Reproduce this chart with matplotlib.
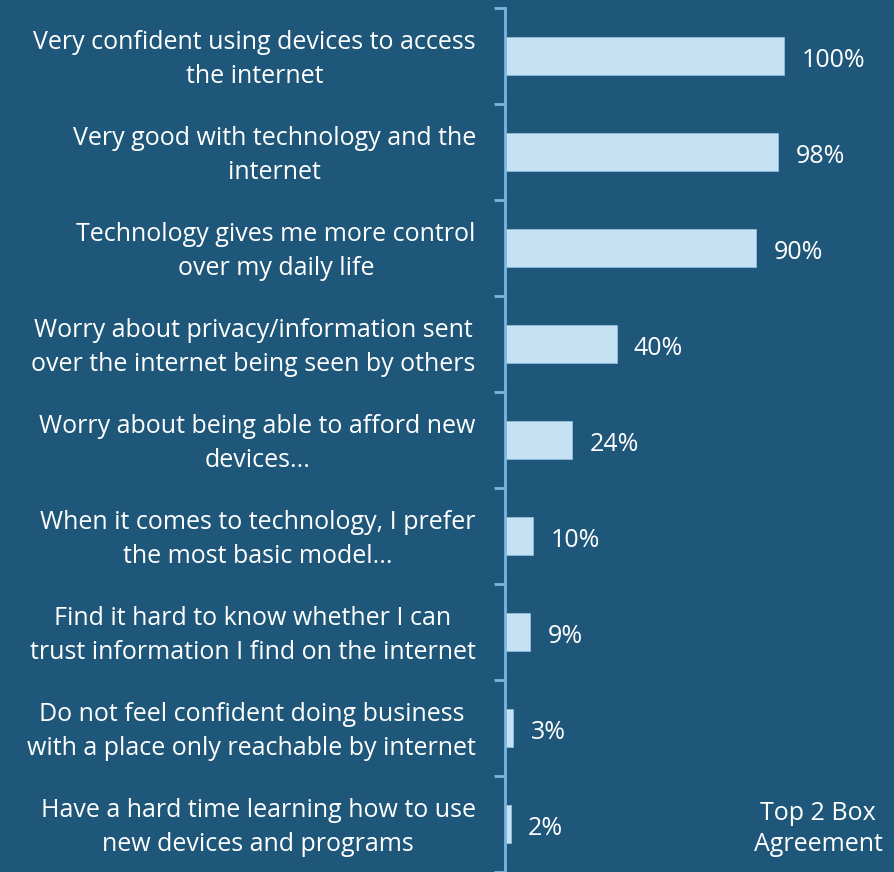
import matplotlib
matplotlib.use("Agg")
import matplotlib.pyplot as plt
from matplotlib.transforms import ScaledTranslation
import numpy as np

categories = [
    "Very confident using devices to access\nthe internet",
    "Very good with technology and the\ninternet",
    "Technology gives me more control\nover my daily life",
    "Worry about privacy/information sent\nover the internet being seen by others",
    "Worry about being able to afford new\ndevices...",
    "When it comes to technology, I prefer\nthe most basic model...",
    "Find it hard to know whether I can\ntrust information I find on the internet",
    "Do not feel confident doing business\nwith a place only reachable by internet",
    "Have a hard time learning how to use\nnew devices and programs",
]
values = [100, 98, 90, 40, 24, 10, 9, 3, 2]
value_labels = ["100%", "98%", "90%", "40%", "24%", "10%", "9%", "3%", "2%"]
note = "Top 2 Box\nAgreement"

BG = "#1e5779"
BAR = "#c5e1f3"
AXC = "#7ab6e0"
FS = 18

plt.rcParams['font.family'] = ['Open Sans', 'DejaVu Sans']

fig = plt.figure(figsize=(8.94, 8.72), dpi=100)
fig.patch.set_facecolor(BG)
W, H = 894, 872
ax = fig.add_axes([505 / W, 0, (W - 505) / W, (H - 8) / H])
ax.set_facecolor(BG)

n = len(categories)
y = np.arange(n)
ax.barh(y, values, height=0.4, color=BAR, edgecolor="#8fbedf", linewidth=0.6, zorder=2)
ax.set_ylim(n - 0.5, -0.5)
ax.set_xlim(0, 100 * (W - 505) / 279)

for yi, v, lab in zip(y, values, value_labels):
    ax.annotate(lab, (v, yi), xytext=(12.5, -3), textcoords="offset points",
                va="center", ha="left", color="white", fontsize=FS)

ax.set_yticks(y)
ax.set_yticklabels(categories, fontsize=FS, color="white", linespacing=1.45,
                   multialignment="center")
ax.tick_params(axis="y", length=0, pad=21)
shift = ScaledTranslation(0, 4 / 100, fig.dpi_scale_trans)
for lbl in ax.get_yticklabels():
    lbl.set_transform(lbl.get_transform() + shift)
ax.set_yticks(np.arange(-0.5, n, 1), minor=True)
ax.tick_params(axis="y", which="minor", length=8, width=2, color=AXC)
ax.set_xticks([])

for s in ["top", "right", "bottom"]:
    ax.spines[s].set_visible(False)
ax.spines["left"].set_color(AXC)
ax.spines["left"].set_linewidth(2)
ax.spines["left"].set_zorder(3)

fig.text(818 / W, 1 - 829 / H, note, ha="center", va="center", color="white",
         fontsize=FS, linespacing=1.35)

fig.savefig("out.png", dpi=100, facecolor=BG)
